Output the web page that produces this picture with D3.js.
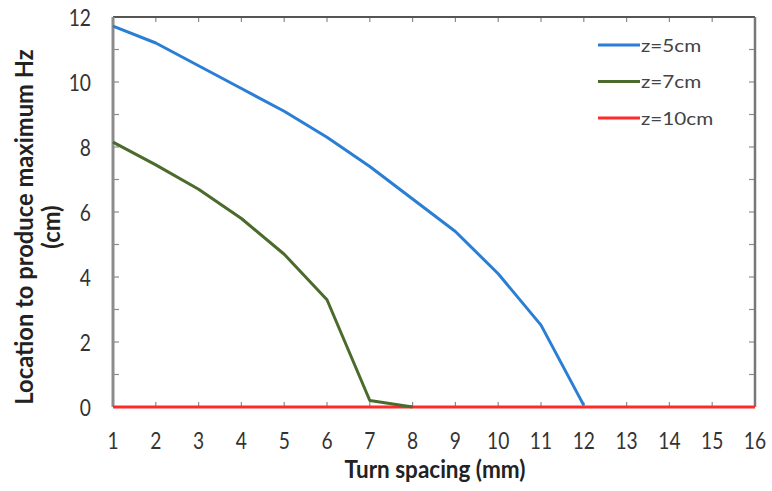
<!DOCTYPE html>
<html><head><meta charset="utf-8">
<script src="https://cdn.jsdelivr.net/npm/d3@7"></script>
<style>body{margin:0;background:#fff}svg{display:block}</style>
</head><body>
<script>
const turnSpacing = [1,2,3,4,5,6,7,8,9,10,11,12,13,14,15,16];
const z5 = [11.72,11.2,10.5,9.8,9.1,8.3,7.4,6.4,5.4,4.1,2.52,0.05];
const z7 = [8.15,7.45,6.7,5.8,4.7,3.3,0.2,0];
const z10 = [0,0,0,0,0,0,0,0,0,0,0,0,0,0,0,0];
const seriesNames = ["z=5cm","z=7cm","z=10cm"];
const seriesColors = ["#2a7fd4","#4b6b2c","#ff2a2a"];
const yTicks = [0,2,4,6,8,10,12];

const W=772,H=491;
const svg=d3.select("body").append("svg").attr("width",W).attr("height",H);
const x=d3.scaleLinear().domain([1,16]).range([113,755]);
const y=d3.scaleLinear().domain([0,12]).range([407,17]);
const font="Lato, 'Open Sans', sans-serif";

function txt(parent,tx,ty,sx,str,opts){
  const g=parent.append("g").attr("transform",`translate(${tx},${ty}) scale(${sx},1)`);
  const t=g.append("text").attr("x",0).attr("y",0).attr("font-family",font)
    .attr("font-size",opts.size).attr("fill",opts.fill||"#333")
    .attr("text-anchor",opts.anchor||"start").text(str);
  if(opts.bold) t.attr("font-weight","bold");
  return t;
}

const axCol="#8c8c8c";
const g=svg.append("g");
turnSpacing.forEach(v=>{
  g.append("line").attr("x1",x(v)).attr("x2",x(v)).attr("y1",y(0)).attr("y2",y(0)-5).attr("stroke",axCol).attr("stroke-width",1.2);
  g.append("line").attr("x1",x(v)).attr("x2",x(v)).attr("y1",y(12)).attr("y2",y(12)+5).attr("stroke",axCol).attr("stroke-width",1.2);
});
d3.range(0,13).forEach(v=>{
  g.append("line").attr("x1",x(1)).attr("x2",x(1)+6).attr("y1",y(v)).attr("y2",y(v)).attr("stroke",axCol).attr("stroke-width",1.2);
  g.append("line").attr("x1",x(16)).attr("x2",x(16)-6).attr("y1",y(v)).attr("y2",y(v)).attr("stroke",axCol).attr("stroke-width",1.2);
});
svg.append("line").attr("x1",x(1)).attr("x2",x(16)).attr("y1",y(12)).attr("y2",y(12)).attr("stroke","#555").attr("stroke-width",2);
svg.append("line").attr("x1",x(1)).attr("x2",x(1)).attr("y1",y(12)).attr("y2",y(0)).attr("stroke",axCol).attr("stroke-width",3);
svg.append("line").attr("x1",x(16)).attr("x2",x(16)).attr("y1",y(12)).attr("y2",y(0)).attr("stroke","#777").attr("stroke-width",2.5);
svg.append("line").attr("x1",x(1)).attr("x2",x(16)).attr("y1",y(0)).attr("y2",y(0)).attr("stroke",axCol).attr("stroke-width",2);

// tick labels
turnSpacing.forEach(d=>txt(svg,x(d),449,0.8,d,{size:24,anchor:"middle"}));
yTicks.forEach(d=>txt(svg,91,y(d)+8.5,0.8,d,{size:24,anchor:"end"}));

// lines
const line=d3.line().x((d,i)=>x(turnSpacing[i])).y(d=>y(d));
[z10,z7,z5].forEach((s,k)=>{
  const idx=2-k;
  svg.append("path").datum(s).attr("d",line).attr("fill","none")
    .attr("stroke",seriesColors[idx]).attr("stroke-width",3).attr("stroke-linejoin","round");
});

// axis titles
txt(svg,435,478,0.9,"Turn spacing (mm)",{size:25,bold:true,fill:"#222",anchor:"middle"});
const yg=svg.append("g").attr("transform","translate(0,227) rotate(-90)");
txt(yg,0,33,0.95,"Location to produce maximum Hz",{size:25,bold:true,fill:"#222",anchor:"middle"});
txt(yg,0,60,0.95,"(cm)",{size:25,bold:true,fill:"#222",anchor:"middle"});

// legend
seriesNames.forEach((n,i)=>{
  const ly=45+i*36.5;
  svg.append("line").attr("x1",598).attr("x2",640).attr("y1",ly).attr("y2",ly)
    .attr("stroke",seriesColors[i]).attr("stroke-width",3);
  txt(svg,641,ly+6.5,1.15,n,{size:18,fill:"#444"});
});
</script>
</body></html>
